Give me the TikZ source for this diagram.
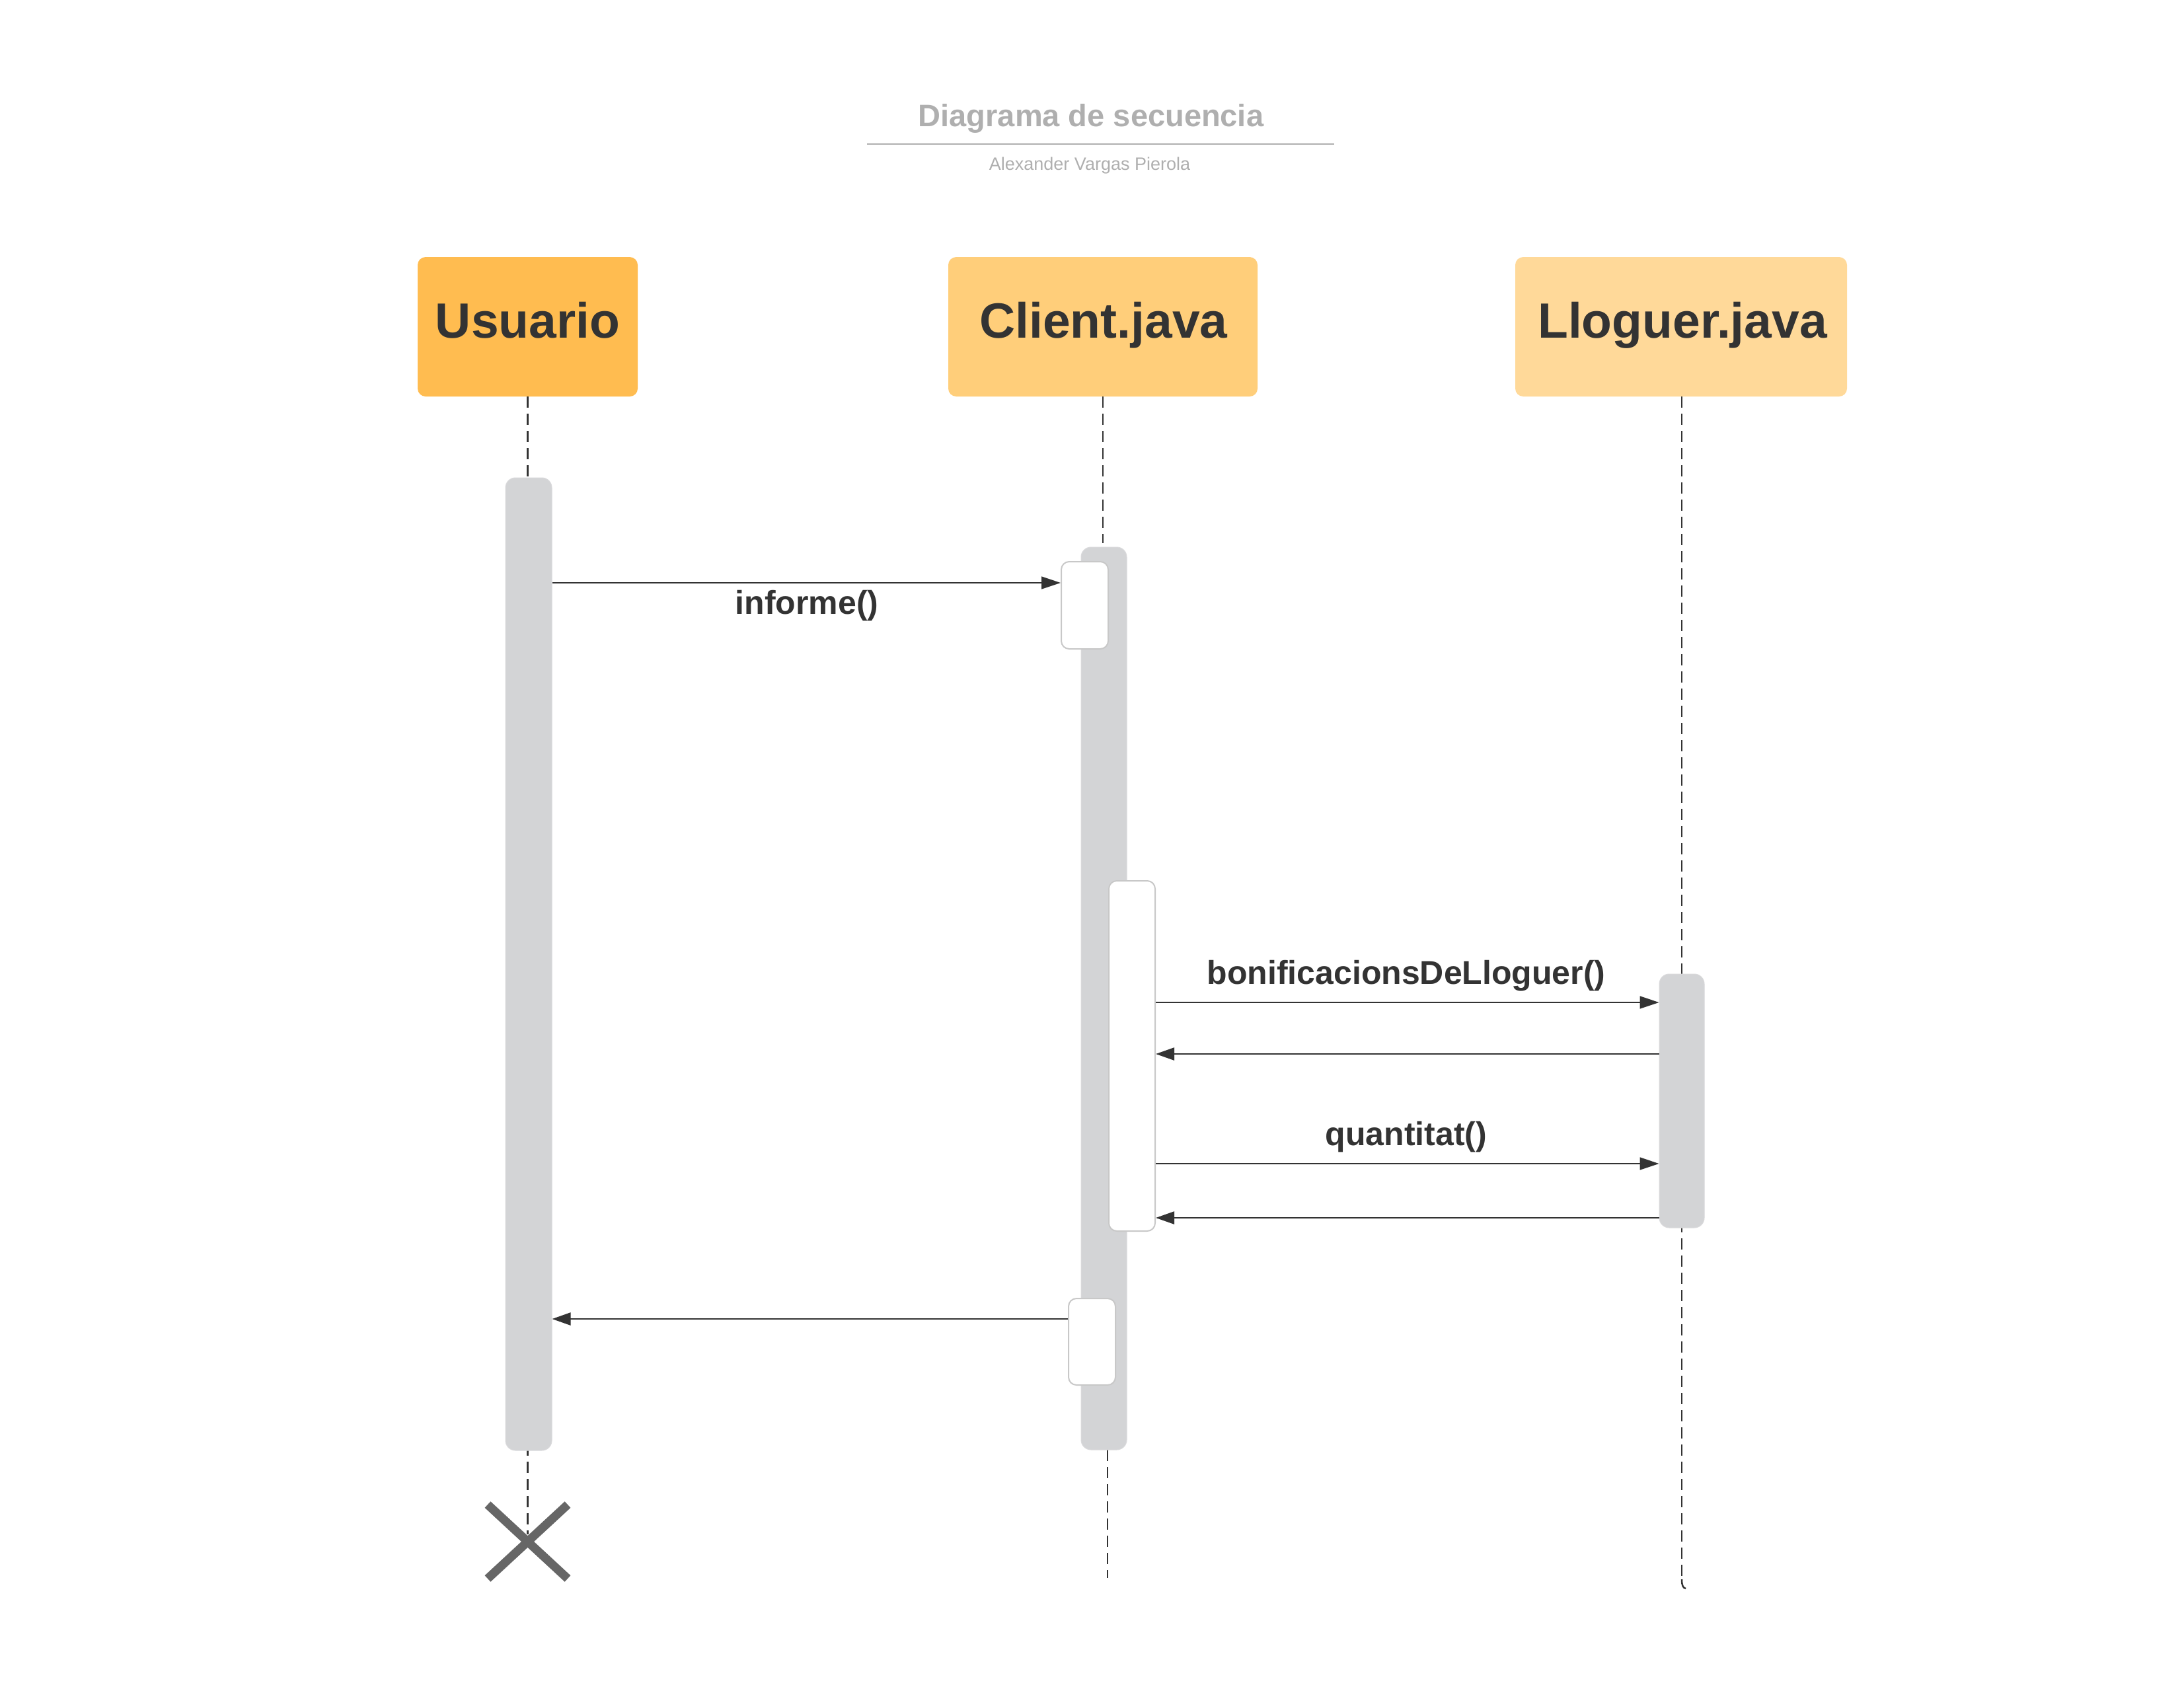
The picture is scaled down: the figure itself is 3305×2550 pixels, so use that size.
\documentclass[tikz,border=0pt]{standalone}
\usepackage{fontspec}
\setmainfont{Liberation Sans}
\usetikzlibrary{arrows.meta}
\definecolor{txt}{HTML}{333333}
\definecolor{ttl}{HTML}{AFAFAF}
\definecolor{ucol}{HTML}{FFBC50}
\definecolor{ccol}{HTML}{FFCE7A}
\definecolor{lcol}{HTML}{FFD999}
\definecolor{barcol}{HTML}{D3D4D6}
\definecolor{wbord}{HTML}{C8C8C8}
\definecolor{xcol}{HTML}{666666}
\definecolor{lifecol}{HTML}{333333}
\begin{document}
\begin{tikzpicture}[x=1pt,y=-1pt,
  hdr/.style={draw=none, rounded corners=12pt, inner sep=0pt},
  hdrtxt/.style={anchor=base, inner sep=0pt, text=txt, font=\fontsize{75}{80}\selectfont\bfseries},
  actbar/.style={fill=barcol, draw=barcol!85!white, line width=1pt, rounded corners=15pt, inner sep=0pt},
  wbox/.style={fill=white, draw=wbord, line width=2pt, rounded corners=12pt, inner sep=0pt},
  lifeline/.style={draw=lifecol, line width=2.5pt, dash pattern=on 17pt off 9pt},
  msg/.style={draw=txt, line width=1.6pt, -{Triangle[length=29pt,width=19pt]}},
  ret/.style={draw=txt, line width=2.6pt, -{Triangle[length=28pt,width=19pt]}},
  lbl/.style={anchor=base, inner sep=0pt, text=txt, font=\fontsize{50}{56}\selectfont\bfseries},
  ttltxt/.style={anchor=base, inner sep=0pt, text=ttl},
  xmark/.style={draw=xcol, line width=13pt, line cap=butt},
]
\useasboundingbox (0,0) rectangle (3305,2550);
\fill[white] (0,0) rectangle (3305,2550);

% title
\node[ttltxt, font=\fontsize{47}{52}\selectfont\bfseries] (title) at (1651,192) {Diagrama de secuencia};
\coordinate (tl1) at (1312,218);
\coordinate (tl2) at (2019,218);
\draw[ttl, line width=2pt] (tl1) -- (tl2);
\node[ttltxt, font=\fontsize{27}{30}\selectfont] (author) at (1649,257) {Alexander Vargas Pierola};

% headers
\node[hdr, fill=ucol, minimum width=333pt, minimum height=211pt] (hU) at (798.5,494.5) {};
\node[hdr, fill=ccol, minimum width=468pt, minimum height=211pt] (hC) at (1669,494.5) {};
\node[hdr, fill=lcol, minimum width=502pt, minimum height=211pt] (hL) at (2544,494.5) {};
\node[hdrtxt] (tU) at (798.5,511) {Usuario};
\node[hdrtxt] (tC) at (1670,511) {Client.java};
\node[hdrtxt] (tL) at (2546,511) {Lloguer.java};

% end points of lifelines
\coordinate (ux) at (798.5,2322);
\coordinate (cl1) at (1676,2194);
\coordinate (cend) at (1676,2388);
\coordinate (lend) at (2545,2390);
\coordinate (lhook) at (2551,2404);

\draw[lifeline] (hU.south) -- (ux);
\draw[lifeline] (hC.south) -- (hC.south |- 0,822);
\draw[lifeline] (cl1) -- (cend);
\draw[lifeline] (hL.south -| lend) -- (lend);
\draw[lifecol, line width=2.5pt] (lend) .. controls (2545,2400) and (2547,2403) .. (lhook);

\node[actbar, minimum width=70pt, minimum height=1472pt] (ubar) at (800,1459) {};
\node[actbar, minimum width=69pt, minimum height=1366pt] (cbar) at (1670.5,1511) {};
\node[actbar, minimum width=68pt, minimum height=384pt] (lbar) at (2545,1666) {};

\node[wbox, minimum width=71pt, minimum height=132pt] (w1) at (1641.5,916) {};
\node[wbox, minimum width=70pt, minimum height=530pt] (w2) at (1713,1598) {};
\node[wbox, minimum width=71pt, minimum height=131pt] (w3) at (1652.5,2030.5) {};

% messages
\coordinate (m1) at (0,882);
\coordinate (m2) at (0,1517);
\coordinate (r1) at (0,1595);
\coordinate (m3) at (0,1761);
\coordinate (r2) at (0,1843);
\coordinate (r3) at (0,1996);

\draw[msg] (ubar.east |- m1) -- (w1.west |- m1);
\draw[msg] (w2.east |- m2) -- (lbar.west |- m2);
\draw[ret] (lbar.west |- r1) -- (w2.east |- r1);
\draw[msg] (w2.east |- m3) -- (lbar.west |- m3);
\draw[ret] (lbar.west |- r2) -- (w2.east |- r2);
\draw[ret] (w3.west |- r3) -- (ubar.east |- r3);

\node[lbl] (l1) at (1221,929) {informe()};
\node[lbl] (l2) at (2128,1489) {bonificacionsDeLloguer()};
\node[lbl] (l3) at (2128,1733) {quantitat()};

% destruction mark
\coordinate (x1) at (738,2277);
\coordinate (x2) at (859,2389);
\coordinate (x3) at (859,2277);
\coordinate (x4) at (738,2389);
\draw[xmark] (x1) -- (x2);
\draw[xmark] (x3) -- (x4);
\end{tikzpicture}
\end{document}
